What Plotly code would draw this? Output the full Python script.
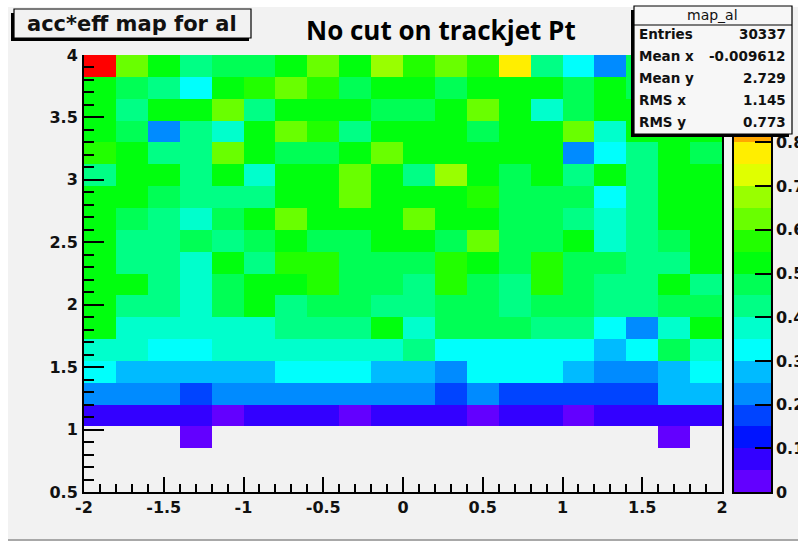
import colorsys
import plotly.graph_objects as go

# ---------------- data ----------------
x_edges = [-2.0, -1.8, -1.6, -1.4, -1.2, -1.0, -0.8, -0.6, -0.4, -0.2, 0.0,
           0.2, 0.4, 0.6, 0.8, 1.0, 1.2, 1.4, 1.6, 1.8, 2.0]
y_edges = [0.5, 0.675, 0.85, 1.025, 1.2, 1.375, 1.55, 1.725, 1.9, 2.075, 2.25,
           2.425, 2.6, 2.775, 2.95, 3.125, 3.3, 3.475, 3.65, 3.825, 4.0]

# acc*eff per bin, rows listed from the top (y = 3.825-4.0) downwards to y = 1.025-1.2
eff_rows_top_down = [
    [0.98, 0.62, 0.53, 0.42, 0.47, 0.48, 0.52, 0.63, 0.53, 0.68, 0.57, 0.61, 0.56, 0.77, 0.41, 0.33, 0.23, 0.46, 0.48, 0.47],
    [0.53, 0.47, 0.41, 0.32, 0.52, 0.56, 0.61, 0.57, 0.46, 0.54, 0.53, 0.48, 0.52, 0.54, 0.52, 0.47, 0.53, 0.48, 0.47, 0.46],
    [0.52, 0.43, 0.54, 0.53, 0.61, 0.42, 0.52, 0.53, 0.54, 0.48, 0.46, 0.52, 0.62, 0.53, 0.38, 0.47, 0.52, 0.51, 0.53, 0.52],
    [0.53, 0.47, 0.22, 0.43, 0.38, 0.52, 0.61, 0.56, 0.42, 0.53, 0.52, 0.54, 0.47, 0.52, 0.53, 0.62, 0.37, 0.52, 0.51, 0.52],
    [0.56, 0.52, 0.42, 0.43, 0.62, 0.53, 0.47, 0.46, 0.52, 0.61, 0.54, 0.52, 0.53, 0.52, 0.54, 0.22, 0.33, 0.42, 0.53, 0.48],
    [0.42, 0.53, 0.52, 0.43, 0.54, 0.37, 0.52, 0.53, 0.62, 0.52, 0.43, 0.67, 0.53, 0.47, 0.52, 0.42, 0.54, 0.41, 0.52, 0.53],
    [0.52, 0.53, 0.47, 0.42, 0.43, 0.42, 0.53, 0.52, 0.61, 0.53, 0.52, 0.54, 0.56, 0.47, 0.48, 0.46, 0.33, 0.42, 0.53, 0.52],
    [0.53, 0.47, 0.42, 0.37, 0.46, 0.52, 0.62, 0.53, 0.54, 0.52, 0.61, 0.53, 0.52, 0.47, 0.48, 0.42, 0.38, 0.43, 0.52, 0.53],
    [0.52, 0.42, 0.43, 0.47, 0.42, 0.46, 0.53, 0.48, 0.47, 0.52, 0.53, 0.47, 0.62, 0.46, 0.47, 0.52, 0.37, 0.42, 0.47, 0.53],
    [0.53, 0.42, 0.43, 0.37, 0.52, 0.42, 0.57, 0.56, 0.47, 0.48, 0.47, 0.57, 0.53, 0.46, 0.56, 0.47, 0.48, 0.42, 0.43, 0.52],
    [0.52, 0.53, 0.42, 0.38, 0.47, 0.52, 0.54, 0.57, 0.47, 0.46, 0.42, 0.56, 0.47, 0.43, 0.57, 0.48, 0.42, 0.41, 0.52, 0.43],
    [0.51, 0.42, 0.43, 0.37, 0.47, 0.52, 0.42, 0.46, 0.47, 0.42, 0.43, 0.47, 0.48, 0.42, 0.46, 0.47, 0.41, 0.42, 0.47, 0.48],
    [0.51, 0.38, 0.37, 0.36, 0.38, 0.37, 0.41, 0.42, 0.43, 0.51, 0.38, 0.46, 0.47, 0.46, 0.42, 0.41, 0.33, 0.23, 0.37, 0.52],
    [0.37, 0.38, 0.33, 0.32, 0.37, 0.38, 0.37, 0.36, 0.38, 0.37, 0.41, 0.33, 0.32, 0.33, 0.32, 0.33, 0.28, 0.32, 0.46, 0.37],
    [0.32, 0.27, 0.28, 0.27, 0.28, 0.27, 0.32, 0.33, 0.32, 0.27, 0.28, 0.23, 0.32, 0.33, 0.32, 0.27, 0.22, 0.23, 0.27, 0.32],
    [0.22, 0.23, 0.22, 0.17, 0.23, 0.22, 0.22, 0.23, 0.22, 0.22, 0.23, 0.17, 0.22, 0.17, 0.16, 0.17, 0.17, 0.16, 0.27, 0.26],
    [0.08, 0.07, 0.08, 0.08, 0.04, 0.08, 0.07, 0.08, 0.04, 0.08, 0.07, 0.08, 0.04, 0.08, 0.07, 0.04, 0.08, 0.07, 0.08, 0.08],
]
# bin y = 0.85-1.025 (only two filled bins)
eff_row_low = [None, None, None, 0.04, None, None, None, None, None, None,
               None, None, None, None, None, None, None, None, 0.04, None]
empty_row = [None] * 20

x_tick_vals = [-2, -1.5, -1, -0.5, 0, 0.5, 1, 1.5, 2]
x_tick_text = ["-2", "-1.5", "-1", "-0.5", "0", "0.5", "1", "1.5", "2"]
y_tick_vals = [0.5, 1, 1.5, 2, 2.5, 3, 3.5, 4]
y_tick_text = ["0.5", "1", "1.5", "2", "2.5", "3", "3.5", "4"]
z_levels = [0.0, 0.05, 0.1, 0.15, 0.2, 0.25, 0.3, 0.35, 0.4, 0.45, 0.5,
            0.55, 0.6, 0.65, 0.7, 0.75, 0.8, 0.85, 0.9, 0.95, 1.0]
cbar_tick_vals = [0, 0.1, 0.2, 0.3, 0.4, 0.5, 0.6, 0.7, 0.8]

stats_title = "map_al"
stats_labels = ["Entries", "Mean x", "Mean y", "RMS x", "RMS y"]
stats_values = ["30337", "-0.009612", "2.729", "1.145", "0.773"]

# ---------------- style ----------------
W, H = 798, 543
L, R, T, B = 84, 27, 55, 51
PW, PH = W - L - R, H - T - B
CANVAS = "#f2f2f2"
AX_FONT = dict(family="DejaVu Sans", size=16, color="#111111")


def px2x(px):
    return (px - L) / PW


def px2y(py):
    return (H - B - py) / PH


# ROOT "pretty" palette (50 colours, violet -> red), 20 contour bands
n_bands = len(z_levels) - 1
colorscale = []
for k in range(n_bands):
    idx = int((k + 0.99) * 50 / n_bands)
    hue = 280 - (idx + 1) * 5.6
    r, g, b = colorsys.hls_to_rgb(hue / 360.0, 0.5, 1.0)
    col = f"rgb({round(r*255)},{round(g*255)},{round(b*255)})"
    colorscale.append([k / n_bands, col])
    colorscale.append([(k + 1) / n_bands, col])

z = [empty_row, empty_row, eff_row_low] + list(reversed(eff_rows_top_down))
band_mid = [[(a + b) / 2] for a, b in zip(z_levels[:-1], z_levels[1:])]

fig = go.Figure()
fig.add_trace(go.Heatmap(x=x_edges, y=y_edges, z=z, colorscale=colorscale,
                         zmin=0, zmax=1, showscale=False, hoverinfo="skip"))
fig.add_trace(go.Heatmap(x=[0, 1], y=z_levels, z=band_mid, colorscale=colorscale,
                         zmin=0, zmax=1, showscale=False, hoverinfo="skip",
                         xaxis="x2", yaxis="y2"))

x_dom_end = px2x(722)
x2_dom_start = px2x(734)

tick_common = dict(ticks="inside", tickcolor="black", tickwidth=2,
                   showgrid=False, zeroline=False, tickfont=AX_FONT,
                   showline=True, linecolor="black", linewidth=2,
                   automargin=False)

fig.update_layout(
    width=W, height=H,
    margin=dict(l=L, r=R, t=T, b=B, pad=0, autoexpand=False),
    paper_bgcolor="white", plot_bgcolor=CANVAS, showlegend=False,
    xaxis=dict(domain=[0, x_dom_end], range=[-2, 2], tickmode="array",
               tickvals=x_tick_vals, ticktext=[f"<b>{t}</b>" for t in x_tick_text],
               ticklen=15, mirror=False,
               minor=dict(tickmode="linear", tick0=-2, dtick=0.1, ticks="inside",
                          ticklen=8, tickwidth=2, tickcolor="black", showgrid=False),
               **tick_common),
    yaxis=dict(domain=[0, 1], range=[0.5, 4], tickmode="array",
               tickvals=y_tick_vals, ticktext=[f"<b>{t}</b>" for t in y_tick_text],
               ticklen=20, mirror=True, ticklabelstandoff=1,
               minor=dict(tickmode="linear", tick0=0.5, dtick=0.1, ticks="inside",
                          ticklen=10, tickwidth=2, tickcolor="black", showgrid=False),
               **tick_common),
    xaxis2=dict(domain=[x2_dom_start, 1], range=[0, 1], anchor="y2",
                showline=True, mirror=True, linecolor="black", linewidth=1.5,
                showticklabels=False, ticks="", showgrid=False, zeroline=False,
                automargin=False),
    yaxis2=dict(domain=[0, 1], range=[0, 1], anchor="x2", side="right",
                tickmode="array", tickvals=cbar_tick_vals,
                ticktext=[f"<b>{v:g}</b>" for v in cbar_tick_vals],
                ticks="inside", ticklen=16, tickwidth=2, tickcolor="black",
                showline=True, mirror=True, linecolor="black", linewidth=1.5,
                showgrid=False, zeroline=False, tickfont=AX_FONT,
                automargin=False),
)

shapes = [
    # canvas (grey pad with thin white border)
    dict(type="rect", xref="paper", yref="paper", layer="below",
         x0=px2x(8), x1=px2x(800), y0=px2y(7), y1=px2y(540),
         fillcolor=CANVAS, line=dict(width=0)),
    dict(type="line", xref="paper", yref="paper", layer="below",
         x0=px2x(8), x1=px2x(800), y0=px2y(540), y1=px2y(540),
         line=dict(color="#a8a8a8", width=2)),
    # title box with shadow
    dict(type="rect", xref="paper", yref="paper", layer="above",
         x0=px2x(11), x1=px2x(249), y0=px2y(13), y1=px2y(41),
         fillcolor="black", line=dict(width=0)),
    dict(type="rect", xref="paper", yref="paper", layer="above",
         x0=px2x(14), x1=px2x(251), y0=px2y(9), y1=px2y(38),
         fillcolor=CANVAS, line=dict(color="black", width=1.2)),
    # stats box with shadow
    dict(type="rect", xref="paper", yref="paper", layer="above",
         x0=px2x(631), x1=px2x(789), y0=px2y(10), y1=px2y(137),
         fillcolor="black", line=dict(width=0)),
    dict(type="rect", xref="paper", yref="paper", layer="above",
         x0=px2x(634), x1=px2x(792), y0=px2y(6), y1=px2y(134),
         fillcolor="#f7f7f7", line=dict(color="black", width=1.2)),
    dict(type="line", xref="paper", yref="paper", layer="above",
         x0=px2x(634), x1=px2x(792), y0=px2y(25), y1=px2y(25),
         line=dict(color="black", width=1.2)),
]
fig.update_layout(shapes=shapes)

annotations = [
    dict(text="<b>acc*eff map for al</b>", x=px2x(132), y=px2y(24),
         font=dict(family="DejaVu Sans", size=21, color="#111111")),
    dict(text="<b>No cut on trackjet Pt</b>", x=px2x(441), y=px2y(30),
         font=dict(family="Open Sans", size=26, color="black")),
    dict(text=stats_title, x=px2x(712), y=px2y(15),
         font=dict(family="DejaVu Sans", size=14, color="#111111")),
]
line_y = [34, 56, 78, 100, 122]
for lab, val, yy in zip(stats_labels, stats_values, line_y):
    annotations.append(dict(text=f"<b>{lab}</b>", x=px2x(637), y=px2y(yy), xanchor="left",
                            font=dict(family="DejaVu Sans", size=13.5, color="#111111")))
    annotations.append(dict(text=f"<b>{val}</b>", x=px2x(788), y=px2y(yy), xanchor="right",
                            font=dict(family="DejaVu Sans", size=13.5, color="#111111")))
for a in annotations:
    a.setdefault("xanchor", "center")
    a.update(xref="paper", yref="paper", yanchor="middle", showarrow=False)
fig.update_layout(annotations=annotations)

fig.write_html("out.html")
